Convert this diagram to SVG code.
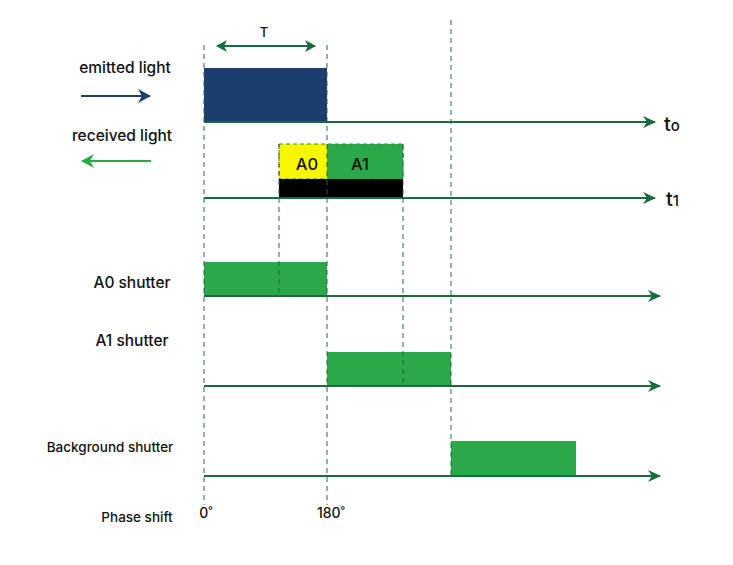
<svg xmlns="http://www.w3.org/2000/svg" width="733" height="565" viewBox="0 0 733 565">
<style>
text{font-family:Inter,"Liberation Sans",sans-serif;fill:#111;font-weight:500;}
.lbl{font-size:15.5px;text-anchor:middle;}
.sm{font-size:13px;text-anchor:middle;}
.axis{stroke:#176b3e;stroke-width:2;fill:none;}
.dash{stroke:#1c6b48;stroke-width:1;stroke-dasharray:5,4;fill:none;}
.g{fill:#2ba84a;}
</style>
<defs>
<marker id="ah" markerWidth="14" markerHeight="12" refX="12" refY="6" orient="auto" markerUnits="userSpaceOnUse">
<path d="M0,0 L13,6 L0,12 L4,6 Z" fill="#176b3e"/>
</marker>
<marker id="ahn" markerWidth="14" markerHeight="14" refX="12" refY="7" orient="auto" markerUnits="userSpaceOnUse">
<path d="M0,0 L13,7 L0,14 L4,7 Z" fill="#1d3d6e"/>
</marker>
<marker id="ahg" markerWidth="14" markerHeight="14" refX="12" refY="7" orient="auto" markerUnits="userSpaceOnUse">
<path d="M0,0 L13,7 L0,14 L4,7 Z" fill="#2ba84a"/>
</marker>
<marker id="ahs" markerWidth="12" markerHeight="12" refX="10" refY="6" orient="auto-start-reverse" markerUnits="userSpaceOnUse">
<path d="M0,0 L11,6 L0,12 L3,6 Z" fill="#176b3e"/>
</marker>
</defs>

<g id="pulses">
<rect id="emitted" x="204" y="68" width="123" height="54" fill="#1d3d6e"/>
<rect id="recv-a0" x="279" y="144" width="48" height="35" fill="#f7f700"/>
<rect id="recv-a1" x="327" y="144" width="76" height="35" class="g"/>
<rect x="279" y="144" width="124" height="35" fill="none" stroke="#2a8a4a" stroke-width="1" stroke-dasharray="4,3"/>
<rect id="recv-black" x="279" y="179" width="124" height="19" fill="#000"/>
<rect id="a0-shutter" x="204" y="262" width="123" height="34" class="g"/>
<rect id="a1-shutter" x="327" y="352" width="124" height="34" class="g"/>
<rect id="bg-shutter" x="451" y="441" width="125" height="35" class="g"/>
</g>

<g id="connectors">
<line class="dash" x1="204" y1="45" x2="204" y2="505"/>
<line class="dash" x1="327" y1="45" x2="327" y2="505"/>
<line class="dash" x1="451" y1="20" x2="451" y2="476"/>
<line class="dash" x1="279" y1="144" x2="279" y2="296"/>
<line class="dash" x1="403" y1="144" x2="403" y2="386"/>
<line class="axis" x1="217" y1="46" x2="315" y2="46" marker-start="url(#ahs)" marker-end="url(#ahs)"/>
<line class="axis" x1="204" y1="122" x2="655" y2="122" marker-end="url(#ah)"/>
<line class="axis" x1="204" y1="198" x2="655" y2="198" marker-end="url(#ah)"/>
<line class="axis" x1="204" y1="296" x2="660" y2="296" marker-end="url(#ah)"/>
<line class="axis" x1="204" y1="386" x2="660" y2="386" marker-end="url(#ah)"/>
<line class="axis" x1="204" y1="476" x2="660" y2="476" marker-end="url(#ah)"/>
<line x1="81" y1="96" x2="150" y2="96" stroke="#1d3d6e" stroke-width="2" marker-end="url(#ahn)"/>
<line x1="151" y1="161" x2="82" y2="161" stroke="#2ba84a" stroke-width="2" marker-end="url(#ahg)"/>
</g>

<g id="labels">
<text class="sm" x="264" y="37">T</text>
<text class="lbl" x="125" y="73">emitted light</text>
<text class="lbl" x="122" y="141">received light</text>
<text x="307" y="170" style="font-size:16.5px;text-anchor:middle">A0</text>
<text x="360" y="170" style="font-size:16.5px;text-anchor:middle">A1</text>
<text x="664" y="131" style="font-size:20px">t<tspan style="font-size:15px">o</tspan></text>
<text x="666" y="206" style="font-size:20px">t<tspan style="font-size:15px">1</tspan></text>
<text class="lbl" x="132" y="288">A0 shutter</text>
<text class="lbl" x="132" y="346">A1 shutter</text>
<text x="110" y="452" style="font-size:13.5px;text-anchor:middle">Background shutter</text>
<text x="137" y="522" style="font-size:13.5px;text-anchor:middle">Phase shift</text>
<text x="206" y="518" style="font-size:14px;text-anchor:middle">0˚</text>
<text x="331" y="518" style="font-size:14px;text-anchor:middle">180˚</text>
</g>
</svg>
